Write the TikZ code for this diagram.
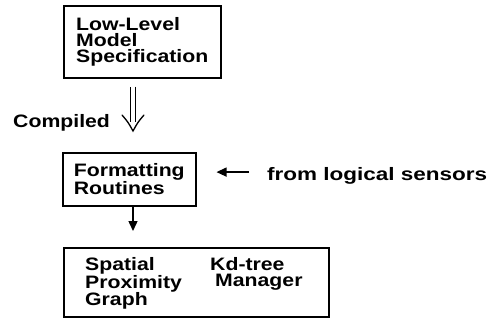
\documentclass[tikz,border=0pt]{standalone}
\usepackage{fontspec}
\setmainfont{Liberation Sans}[FakeStretch=1.18]
\usetikzlibrary{arrows.meta,calc}
\begin{document}
\begin{tikzpicture}[x=1pt,y=1pt,
  txt/.style={font=\bfseries\fontsize{18}{16}\selectfont},
  box/.style={txt, draw, line width=1.5pt, anchor=north west, align=left, inner sep=0pt},
  lbl/.style={txt, inner sep=0pt, align=left},
  arr/.style={line width=1.4pt, -{Triangle[length=10pt,width=9pt]}}]
\useasboundingbox (0,0) rectangle (490,-322);
\fill[white] (0,0) rectangle (490,-322);
% boxes
\node[box, minimum width=157pt, minimum height=72pt] (spec) at (63,-5)
  {Low-Level\\Model\\Specification};
\node[box, minimum width=133pt, minimum height=53pt] (fmt) at (62,-152)
  {Formatting\\Routines};
\node[box, minimum width=265pt, minimum height=69pt] (spg) at (63,-247) {};
\node[lbl, anchor=north west] (spgtxt) at (85,-257) {Spatial\\Proximity\\Graph};
\node[lbl, anchor=north west] (kdtxt) at (210,-257) {Kd-tree\\\hspace{5pt}Manager};
% labels
\node[lbl, anchor=base west] (comp) at (13,-127) {Compiled};
\node[lbl, anchor=base west] (src) at (267,-180)
  {\addfontfeature{FakeStretch=1.25}from logical sensors};
% column of the vertical arrows
\coordinate (ax) at (133,0);
% double arrow (compiled)
\draw[double, double distance=3.4pt, line width=1.3pt, shorten <=8pt, shorten >=30pt]
  (spec.south -| ax) -- (fmt.north -| ax);
\coordinate (tip) at ($(fmt.north -| ax)+(0,21)$);
\draw[line width=1.3pt, line cap=round]
  ($(tip)+(-11,16)$) .. controls ($(tip)+(-5,9)$) .. (tip)
  .. controls ($(tip)+(5,9)$) .. ($(tip)+(11,16)$);
% down arrow
\draw[arr, shorten >=16pt] (fmt.south -| ax) -- (spg.north -| ax);
% arrow from logical sensors
\draw[arr, shorten <=18pt, shorten >=20pt]
  ([yshift=3.3pt]src.west) -- ([yshift=3.3pt]src.west -| fmt.east);
\end{tikzpicture}
\end{document}
